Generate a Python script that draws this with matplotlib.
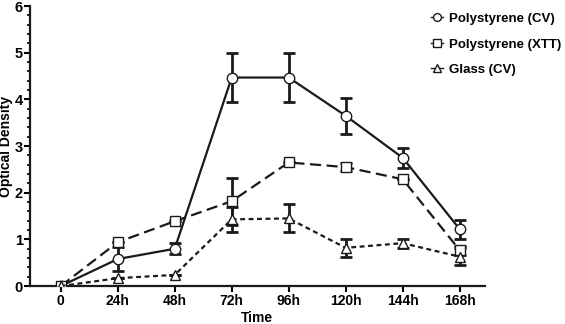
import matplotlib
matplotlib.use("Agg")
import matplotlib.pyplot as plt
import numpy as np

plt.rcParams['font.family'] = ['Liberation Sans', 'DejaVu Sans']

categories = ["0", "24h", "48h", "72h", "96h", "120h", "144h", "168h"]
ps_cv = [0.0, 0.58, 0.80, 4.47, 4.47, 3.65, 2.75, 1.22]
ps_cv_err = [0.0, 0.25, 0.12, 0.53, 0.53, 0.38, 0.22, 0.20]
ps_xtt = [0.0, 0.94, 1.39, 1.82, 2.65, 2.55, 2.29, 0.77]
ps_xtt_err = [0.0, 0.0, 0.0, 0.50, 0.0, 0.08, 0.0, 0.10]
glass_cv = [0.0, 0.17, 0.24, 1.43, 1.45, 0.82, 0.92, 0.63]
glass_cv_err = [0.0, 0.0, 0.0, 0.27, 0.30, 0.20, 0.10, 0.18]

fig = plt.figure(figsize=(5.65, 3.24), dpi=100)
ax = fig.add_axes([0.053, 0.117, 0.805, 0.864])

x = np.arange(len(categories))

series = [
    (ps_cv, ps_cv_err, 'o', '-', "Polystyrene (CV)"),
    (ps_xtt, ps_xtt_err, 's', (0, (5, 2.5)), "Polystyrene (XTT)"),
    (glass_cv, glass_cv_err, '^', (0, (2.2, 1.6)), "Glass (CV)"),
]

handles = []
for vals, err, mk, ls, lab in series:
    ax.errorbar(x, vals, yerr=err, fmt='none', ecolor='#1a1a1a', elinewidth=2,
                capsize=4, capthick=2, zorder=2)
    h, = ax.plot(x, vals, color='#1a1a1a', linestyle=ls, linewidth=1.6,
                 marker=mk, markersize=7.5 if mk != 's' else 7,
                 markerfacecolor='white', markeredgecolor='#1a1a1a',
                 markeredgewidth=1.0, label=lab, zorder=3)
    handles.append(h)

ax.set_xlim(-0.54, 7.44)
ax.set_ylim(0, 6)
ax.set_xticks(x)
ax.set_xticklabels(categories, fontweight='bold', fontsize=10)
ax.set_yticks(range(0, 7))
ax.set_yticklabels([str(i) for i in range(0, 7)], fontweight='bold', fontsize=10.5)
ax.set_yticks(np.arange(0, 6.01, 0.2), minor=True)
ax.tick_params(axis='y', which='major', length=4, width=1.5, pad=1)
ax.tick_params(axis='y', which='minor', length=2.5, width=1.2)
ax.tick_params(axis='x', which='major', length=4, width=1.5, pad=2)

for s in ['top', 'right']:
    ax.spines[s].set_visible(False)
for s in ['left', 'bottom']:
    ax.spines[s].set_linewidth(1.6)
    ax.spines[s].set_color('#1a1a1a')

ax.set_xlabel("Time", fontweight='bold', fontsize=10, labelpad=2)
ax.set_ylabel("Optical Density", fontweight='bold', fontsize=10)
ax.yaxis.set_label_coords(-0.037, 0.5)

leg = fig.legend(handles=handles, loc='upper left', bbox_to_anchor=(0.742, 0.997),
                 frameon=False, handlelength=0.9, handletextpad=0.45,
                 labelspacing=1.0, prop={'weight': 'bold', 'size': 9.5},
                 markerscale=0.75)
for h in leg.legend_handles:
    h.set_linestyle('-')
    h.set_linewidth(1.0)

fig.savefig("out.png", dpi=100)
